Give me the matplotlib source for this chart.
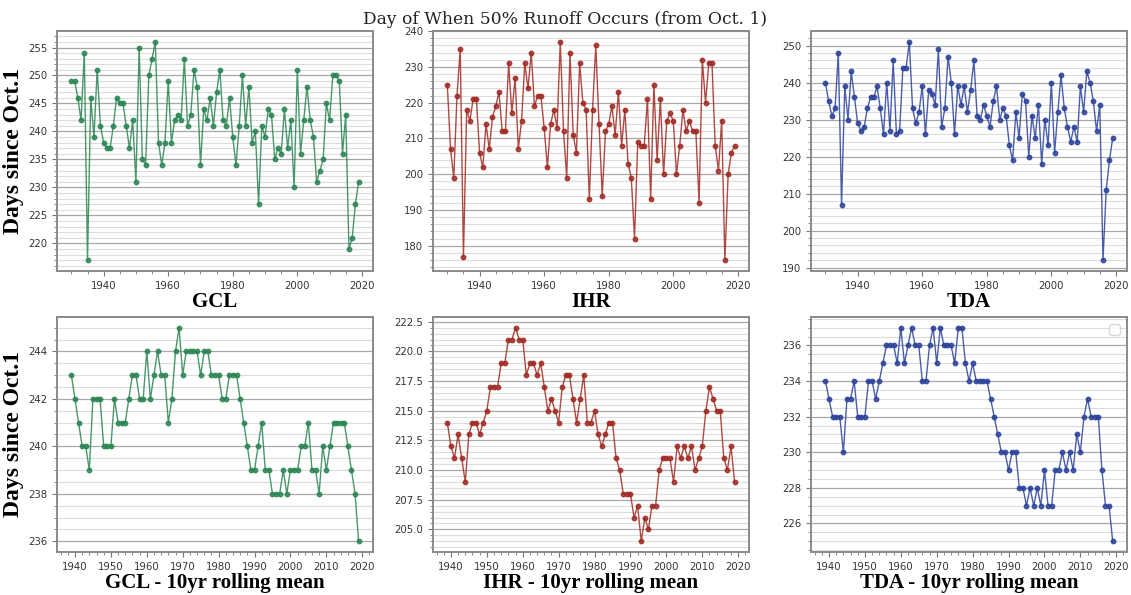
import matplotlib
matplotlib.use("Agg")
import matplotlib.pyplot as plt
import numpy as np

# annual day (since Oct. 1) of 50% runoff, 1930-2019
years = np.arange(1930, 2020)
gcl = [249, 249, 246, 242, 254, 217, 246, 239, 251, 241, 238, 237, 237, 241, 246, 245, 245, 241, 237, 242,
       231, 255, 235, 234, 250, 253, 256, 238, 234, 238, 249, 238, 242, 243, 242, 253, 241, 243, 251, 248,
       234, 244, 242, 246, 241, 247, 251, 242, 241, 246, 239, 234, 241, 250, 241, 248, 238, 240, 227, 241,
       239, 244, 243, 235, 237, 236, 244, 237, 242, 230, 251, 236, 242, 248, 242, 239, 231, 233, 235, 245,
       242, 250, 250, 249, 236, 243, 219, 221, 227, 231]
ihr = [225, 207, 199, 222, 235, 177, 218, 215, 221, 221, 206, 202, 214, 207, 216, 219, 223, 212, 212, 231,
       217, 227, 207, 215, 231, 224, 234, 219, 222, 222, 213, 202, 214, 218, 213, 237, 212, 199, 234, 211,
       206, 231, 220, 218, 193, 218, 236, 214, 194, 212, 214, 219, 211, 223, 208, 218, 203, 199, 182, 209,
       208, 208, 221, 193, 225, 204, 221, 200, 215, 217, 215, 200, 208, 218, 212, 215, 212, 212, 192, 232,
       220, 231, 231, 208, 201, 215, 176, 200, 206, 208]
tda = [240, 235, 231, 233, 248, 207, 239, 230, 243, 236, 229, 227, 228, 233, 236, 236, 239, 233, 226, 240,
       227, 246, 226, 227, 244, 244, 251, 233, 229, 232, 239, 226, 238, 237, 234, 249, 228, 233, 247, 240,
       226, 239, 234, 239, 232, 238, 246, 231, 230, 234, 231, 228, 235, 239, 230, 233, 231, 223, 219, 232,
       225, 237, 235, 220, 231, 225, 234, 218, 230, 223, 240, 221, 232, 242, 233, 228, 224, 228, 224, 239,
       232, 243, 240, 235, 227, 234, 192, 211, 219, 225]

# 10yr rolling mean, 1939-2019
roll_years = np.arange(1939, 2020)
gcl_roll = [243, 242, 241, 240, 240, 239, 242, 242, 242, 240, 240, 240, 242, 241, 241, 241, 242, 243, 243, 242,
            242, 244, 242, 243, 244, 243, 243, 241, 242, 244, 245, 243, 244, 244, 244, 244, 243, 244, 244, 243,
            243, 243, 242, 242, 243, 243, 243, 242, 241, 240, 239, 239, 240, 241, 239, 239, 238, 238, 238, 239,
            238, 239, 239, 239, 240, 240, 241, 239, 239, 238, 240, 239, 240, 241, 241, 241, 241, 240, 239, 238,
            236]
ihr_roll = [214, 212, 211, 213, 211, 209, 213, 214, 214, 213, 214, 215, 217, 217, 217, 219, 219, 221, 221, 222,
            221, 221, 218, 219, 219, 218, 219, 217, 215, 216, 215, 214, 217, 218, 218, 216, 214, 216, 218, 214,
            214, 215, 213, 212, 213, 214, 214, 211, 210, 208, 208, 208, 206, 207, 204, 206, 205, 207, 207, 210,
            211, 211, 211, 209, 212, 211, 212, 211, 212, 210, 211, 212, 215, 217, 216, 215, 215, 211, 210, 212,
            209]
tda_roll = [234, 233, 232, 232, 232, 230, 233, 233, 234, 232, 232, 232, 234, 234, 233, 234, 235, 236, 236, 236,
            235, 237, 235, 236, 237, 236, 236, 234, 234, 236, 237, 235, 237, 236, 236, 236, 235, 237, 237, 235,
            234, 235, 234, 234, 234, 234, 233, 232, 231, 230, 230, 229, 230, 230, 228, 228, 227, 228, 227, 228,
            227, 229, 227, 227, 229, 229, 230, 229, 230, 229, 231, 230, 232, 233, 232, 232, 232, 229, 227, 227,
            225]

sites = ["GCL", "IHR", "TDA"]
colors = ["#2a8552", "#a02a22", "#2b429b"]
annual = [gcl, ihr, tda]
rolling = [gcl_roll, ihr_roll, tda_roll]

fig = plt.figure(figsize=(11.31, 5.95), dpi=100)

lefts = [0.0504, 0.3828, 0.7171]
w = 0.2794


def style(ax):
    ax.minorticks_on()
    ax.grid(axis='y', which='major', color='#a8a8a8', linewidth=0.9)
    ax.grid(axis='y', which='minor', color='#dcdcdc', linewidth=0.8)
    ax.set_axisbelow(True)
    for s in ax.spines.values():
        s.set_color('#8a8a8a')
        s.set_linewidth(1.4)
    ax.tick_params(which='both', colors='#777777', labelcolor='#333333', labelsize=7.3)
    ax.tick_params(which='major', length=3.5)
    ax.tick_params(which='minor', length=2)


for i in range(3):
    ax = fig.add_axes([lefts[i], 0.5445, w, 0.4034])
    ax.plot(years, annual[i], color=colors[i], linewidth=1, alpha=0.85,
            marker='o', markersize=3.2, markerfacecolor=colors[i], markeredgecolor=colors[i])
    style(ax)
    ax.set_xlabel(sites[i], family='Liberation Serif', fontweight='bold', fontsize=15, labelpad=1)
    if i == 0:
        ax.set_ylabel('Days since Oct.1', family='Liberation Serif', fontweight='bold', fontsize=17,
                      labelpad=3)

    ax2 = fig.add_axes([lefts[i], 0.0723, w, 0.395])
    ax2.plot(roll_years, rolling[i], color=colors[i], linewidth=1, alpha=0.85,
             marker='o', markersize=3.2, markerfacecolor=colors[i], markeredgecolor=colors[i])
    style(ax2)
    ax2.set_xlabel(sites[i] + ' - 10yr rolling mean', family='Liberation Serif', fontweight='bold',
                   fontsize=15, labelpad=1)
    if i == 0:
        ax2.set_ylabel('Days since Oct.1', family='Liberation Serif', fontweight='bold', fontsize=17,
                       labelpad=3)
    if i == 2:
        ax2.legend(handles=[], loc='upper right')

fig.suptitle('Day of When 50% Runoff Occurs (from Oct. 1)', family='DejaVu Serif', fontsize=12.3,
             y=0.982, color='#222222')

fig.savefig("out.png", dpi=100)
